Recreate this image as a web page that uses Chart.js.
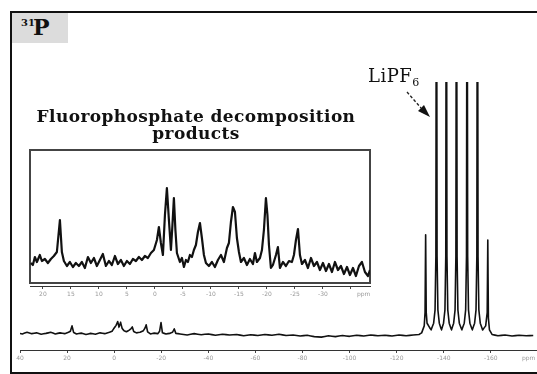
<!DOCTYPE html>
<html>
<head>
<meta charset="utf-8">
<script src="https://cdn.jsdelivr.net/npm/chart.js@4.4.0/dist/chart.umd.min.js"></script>
<style>
  body { margin: 0; background: #fff; width: 537px; height: 374px; overflow: hidden; position: relative; }
  canvas { position: absolute; }
  #frame { position: absolute; left: 10px; top: 11px; width: 600px; height: 359px;
    border-left: 2px solid #111; border-top: 2px solid #111; border-bottom: 2px solid #111; }
  #nucleus { position: absolute; left: 12px; top: 13px; width: 56px; height: 30px; background: #dcdcdc;
    font-family: "DejaVu Serif", serif; font-weight: bold; color: #111; }
  #nucleus .num { position: absolute; left: 9px; top: 4px; font-size: 10px; }
  #nucleus .el { position: absolute; left: 21px; top: 1px; font-size: 22px; line-height: 26px; }
  #title { position: absolute; left: 20px; top: 108px; width: 352px; text-align: center;
    font-family: "DejaVu Serif", serif; font-weight: bold; font-size: 17px; line-height: 17px;
    letter-spacing: 0.4px; color: #111; }
  #salt { position: absolute; left: 368px; top: 67px; font-family: "DejaVu Serif", serif;
    font-size: 18px; line-height: 18px; color: #111; letter-spacing: 0.5px; }
  #salt sub { font-size: 11px; vertical-align: -4px; }
  .ppm { position: absolute; font-family: "DejaVu Sans", sans-serif; font-size: 6px; color: #999; }
  svg { position: absolute; left: 0; top: 0; }
</style>
</head>
<body>
<div id="frame"></div>
<canvas id="mainChart" width="537" height="374" style="left:0;top:0"></canvas>
<canvas id="insetChart" width="360" height="170" style="left:20px;top:140px"></canvas>
<div id="nucleus"><span class="num">31</span><span class="el">P</span></div>
<div id="title">Fluorophosphate decomposition<br>products</div>
<div id="salt">LiPF<sub>6</sub></div>
<span class="ppm" style="left:522px;top:354px">ppm</span>
<span class="ppm" style="left:357px;top:290px">ppm</span>
<svg width="537" height="374">
  <line x1="407" y1="92" x2="421" y2="108" stroke="#222" stroke-width="1.3" stroke-dasharray="3,2"/>
  <polygon points="430,117 418,111 424,105" fill="#111"/>
</svg>
<script>
// full spectrum (ppm, intensity)
const mainPpm = [41, 39, 37, 35, 33, 31, 29, 27, 25, 23, 21, 19.4, 18.6, 17.9, 17.2, 16, 14, 12, 10, 8, 6, 4, 2,
  0.9, 0, -0.8, -1.5, -2.1, -2.7, -3.4, -4.2, -5.2, -6.4, -7.2, -7.7, -8.3, -9.5, -11, -12.4, -13.1, -13.6, -14.2,
  -15.4, -17, -18.5, -19.3, -19.9, -20.5, -22, -23.6, -24.8, -25.5, -26.2, -28, -31, -34, -37, -40, -43, -46, -49,
  -52, -55, -58, -61, -64, -67, -70, -73, -76, -79, -82, -85, -88, -91, -94, -97, -100, -103, -106, -109, -112,
  -115, -118, -121, -124, -127, -129.5, -130.6,
  -131.7, -132.05, -132.3, -132.55, -132.9, -134.6,
  -135.7, -136.3, -136.65, -136.9, -137.15, -137.5, -138.1, -139.0,
  -139.9, -140.5, -140.85, -141.1, -141.35, -141.7, -142.3, -143.25,
  -144.2, -144.8, -145.15, -145.4, -145.65, -146.0, -146.6, -147.65,
  -148.7, -149.3, -149.65, -149.9, -150.15, -150.5, -151.1, -152.1,
  -153.1, -153.7, -154.05, -154.3, -154.55, -154.9, -155.5, -156.5,
  -157.8, -158.45, -158.7, -158.95, -159.4, -160.5, -163, -166, -169, -172, -175, -178];
const mainInt = [6.3, 6.0, 6.6, 6.1, 6.4, 5.9, 6.2, 6.6, 6.0, 6.4, 6.1, 6.6, 7.0, 9.0, 6.5, 6.0, 6.3, 5.8, 6.2, 5.9, 6.4, 6.1, 6.6,
  7.0, 8.2, 9.2, 10.6, 8.4, 10.4, 8.0, 7.2, 6.8, 7.4, 8.0, 8.6, 6.9, 6.4, 6.6, 7.2, 8.2, 9.4, 6.8,
  6.0, 6.3, 6.1, 7.0, 10.2, 6.4, 6.0, 6.2, 6.6, 7.9, 6.2, 6.0, 5.6, 6.1, 5.7, 6.0, 5.5, 5.9, 5.6,
  5.8, 5.3, 5.7, 5.4, 5.8, 5.5, 5.9, 5.4, 5.6, 5.2, 5.5, 5.0, 4.8, 5.3, 5.0, 5.4, 5.1, 5.5, 5.2, 5.6, 5.3,
  5.5, 5.2, 5.6, 5.3, 5.6, 5.8, 6.4,
  9, 14, 43, 14, 10, 7.5,
  10, 15, 35, 200, 35, 15, 10, 7.5,
  10, 15, 35, 200, 35, 15, 10, 7.5,
  10, 15, 35, 200, 35, 15, 10, 7.5,
  10, 15, 35, 200, 35, 15, 10, 7.5,
  10, 15, 35, 200, 35, 15, 10, 7.5,
  9, 14, 41, 12, 7.5, 5.8, 5.3, 5.6, 5.2, 5.5, 5.3, 5.4];
const mainTicks = [40, 20, 0, -20, -40, -60, -80, -100, -120, -140, -160];

// expanded region in the inset
const insetPpm = [22.14, 21.79, 21.43, 21.07, 20.54, 20.18, 19.64, 19.11, 18.57, 18.04, 17.5, 16.96, 16.61, 16.25,
  15.71, 15.18, 14.64, 14.11, 13.57, 13.04, 12.5, 11.96, 11.43, 10.89, 10.36, 9.82, 9.29, 8.75, 8.21, 7.68, 7.14,
  6.61, 6.07, 5.54, 5.0, 4.46, 3.93, 3.39, 2.86, 2.32, 1.79, 1.25, 0.71, 0.18, -0.36, -0.71, -1.07, -1.43, -1.79,
  -2.14, -2.5, -2.86, -3.13, -3.39, -3.66, -3.93, -4.46, -4.82, -5.18, -5.54, -5.89, -6.25, -6.61, -6.96, -7.32,
  -7.68, -8.04, -8.39, -8.75, -9.11, -9.64, -10.18, -10.71, -11.25, -11.79, -12.32, -12.86, -13.21, -13.57, -13.93,
  -14.29, -14.64, -15.0, -15.36, -15.89, -16.43, -16.96, -17.5, -17.86, -18.21, -18.75, -19.11, -19.46, -19.82,
  -20.09, -20.36, -20.71, -21.07, -21.61, -21.96, -22.32, -22.86, -23.39, -23.93, -24.46, -24.82, -25.18, -25.54,
  -25.89, -26.25, -26.79, -27.32, -27.86, -28.39, -28.93, -29.46, -30.0, -30.54, -31.07, -31.61, -32.14, -32.68,
  -33.21, -33.75, -34.29, -34.82, -35.36, -35.89, -36.43, -36.96, -37.5, -38.04, -38.39];
const insetInt = [23, 21, 29, 24, 31, 25, 27, 23, 27, 30, 34, 66, 34, 25,
  20, 24, 19, 23, 20, 24, 18, 29, 23, 28, 20, 26, 32, 20, 25, 21, 30,
  22, 26, 20, 25, 22, 27, 25, 29, 26, 30, 28, 33, 36, 46, 59, 43, 31, 71,
  98, 66, 36, 61, 88, 56, 33, 24, 28, 19, 26, 24, 31, 29, 36, 41,
  54, 63, 48, 31, 23, 20, 24, 19, 26, 31, 24, 38, 43, 64, 79,
  74, 48, 34, 24, 28, 21, 27, 22, 33, 24, 28, 36, 56, 88,
  71, 41, 18, 21, 31, 39, 18, 24, 20, 25, 24, 31, 46, 57,
  31, 22, 26, 18, 28, 20, 24, 16, 23, 15, 22, 14, 24, 16,
  20, 12, 19, 11, 18, 10, 20, 24, 14, 10, 16];
const insetTicks = [20, 15, 10, 5, 0, -5, -10, -15, -20, -25, -30, -35];

function toPoints(xs, ys) {
  return xs.map((x, i) => ({ x: x, y: ys[i] }));
}

function axisX(min, max, ticks, label) {
  return {
    type: "linear",
    reverse: true,
    min: min,
    max: max,
    afterBuildTicks: (scale) => { scale.ticks = ticks.map(v => ({ value: v })); },
    afterFit: (scale) => { scale.height = 24; },
    grid: { drawOnChartArea: false, tickLength: 3, color: "#444", lineWidth: 1 },
    border: { display: true, color: "#333", width: 1 },
    ticks: {
      autoSkip: false, maxRotation: 0, padding: 2, color: "#999",
      font: { size: 6, family: "DejaVu Sans" },
      callback: label,
    },
  };
}

// tiny tension keeps the segments straight but avoids the per-pixel fast path
new Chart(document.getElementById("mainChart"), {
  type: "line",
  data: {
    datasets: [{
      data: toPoints(mainPpm, mainInt),
      borderColor: "#111",
      borderWidth: 1.6,
      borderJoinStyle: "round",
      pointRadius: 0,
      tension: 0.0001,
    }],
  },
  options: {
    responsive: false,
    animation: false,
    layout: { padding: { top: 82, left: 20, right: 0, bottom: 0 } },
    plugins: { legend: { display: false }, tooltip: { enabled: false } },
    scales: {
      x: axisX(-179.6, 40, mainTicks, (v) => String(v)),
      y: { display: false, min: 0, max: 100 },
    },
  },
});

const insetFrame = {
  id: "insetFrame",
  beforeDatasetsDraw(chart) {
    const a = chart.chartArea;
    const ctx = chart.ctx;
    ctx.save();
    ctx.strokeStyle = "#444";
    ctx.lineWidth = 2;
    ctx.strokeRect(a.left, a.top, a.right - a.left, a.bottom - 3 - a.top);
    ctx.restore();
  },
};

new Chart(document.getElementById("insetChart"), {
  type: "line",
  data: {
    datasets: [{
      data: toPoints(insetPpm, insetInt),
      borderColor: "#111",
      borderWidth: 2.2,
      borderJoinStyle: "round",
      pointRadius: 0,
      tension: 0,
    }],
  },
  options: {
    responsive: false,
    animation: false,
    layout: { padding: { top: 10, left: 10, right: 10, bottom: 0 } },
    plugins: { legend: { display: false }, tooltip: { enabled: false } },
    scales: {
      x: axisX(-38.4, 22.3, insetTicks, (v) => (v === -35 ? "" : String(v))),
      y: { display: false, min: 0, max: 136 },
    },
  },
  plugins: [insetFrame],
});
</script>
</body>
</html>
